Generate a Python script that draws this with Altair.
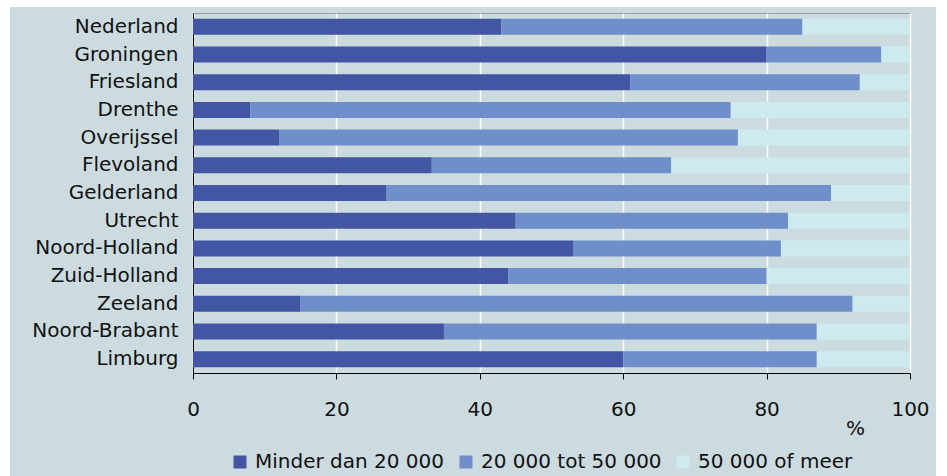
import altair as alt
import pandas as pd

# Share of households per income class, by province (%)
provinces = [
    "Nederland", "Groningen", "Friesland", "Drenthe", "Overijssel", "Flevoland",
    "Gelderland", "Utrecht", "Noord-Holland", "Zuid-Holland", "Zeeland",
    "Noord-Brabant", "Limburg",
]
classes = ["Minder dan 20 000", "20 000 tot 50 000", "50 000 of meer"]
low = [43, 80, 61, 8, 12, 33.3, 27, 45, 53, 44, 15, 35, 60]
middle = [42, 16, 32, 67, 64, 33.4, 62, 38, 29, 36, 77, 52, 27]
high = [15, 4, 7, 25, 24, 33.3, 11, 17, 18, 20, 8, 13, 13]
x_ticks = [0, 20, 40, 60, 80, 100]

colors = ["#4256a4", "#6f8fca", "#cdebef"]
BG = "#cbdbe0"
FONT = "DejaVu Sans"
FS = 20

rows = []
for series_idx, (cls, vals) in enumerate(zip(classes, [low, middle, high])):
    for prov, v in zip(provinces, vals):
        rows.append({"provincie": prov, "klasse": cls, "aandeel": v, "volgorde": series_idx})
df = pd.DataFrame(rows)

bars = (
    alt.Chart(df)
    .mark_bar(size=16)
    .encode(
        y=alt.Y(
            "provincie:N",
            sort=provinces,
            title=None,
            scale=alt.Scale(paddingInner=0.42, paddingOuter=0.21),
            axis=alt.Axis(
                ticks=False,
                labelFontSize=FS,
                labelFont=FONT,
                labelColor="#111111",
                labelPadding=15,
                labelLimit=0,
                domainColor="#000000",
                domainWidth=1,
                grid=False,
            ),
        ),
        x=alt.X(
            "aandeel:Q",
            stack="zero",
            scale=alt.Scale(domain=[0, 100], nice=False),
            title="%",
            axis=alt.Axis(
                values=x_ticks,
                grid=True,
                gridColor="#ffffff",
                gridWidth=1.5,
                domainColor="#000000",
                tickColor="#000000",
                tickSize=6,
                labelFontSize=FS,
                labelFont=FONT,
                labelColor="#111111",
                labelPadding=20,
                labelFlush=False,
                titleFont=FONT,
                titleFontSize=FS,
                titleFontWeight="normal",
                titleColor="#111111",
                titleX=662,
                titleY=55,
                titleAlign="center",
                titleBaseline="middle",
            ),
        ),
        color=alt.Color(
            "klasse:N",
            sort=classes,
            scale=alt.Scale(domain=classes, range=colors),
            legend=alt.Legend(
                title=None,
                orient="none",
                direction="horizontal",
                legendX=37,
                legendY=439,
                symbolType="square",
                symbolSize=169,
                symbolStrokeWidth=0,
                symbolOpacity=1,
                labelFont=FONT,
                labelFontSize=FS,
                labelColor="#111111",
                labelLimit=0,
                labelOffset=5,
                columnPadding=11,
            ),
        ),
        order=alt.Order("volgorde:Q", sort="ascending"),
    )
)

# thin white frame around the coloured panel
def strip(x0, x1, y0, y1):
    return alt.Chart(alt.Data(values=[{}])).mark_rect(color="white").encode(
        x=alt.value(x0), x2=alt.value(x1), y=alt.value(y0), y2=alt.value(y1)
    )

frame = strip(-193, -183, -13, 463) + strip(-193, 754, -13, -6) + strip(743, 754, -13, 463)

chart = (
    alt.layer(frame, bars)
    .properties(
        width=717,
        height=360,
        autosize=alt.AutoSizeParams(type="none"),
        padding={"left": 193, "top": 13, "right": 37, "bottom": 103},
        background=BG,
    )
    .configure_view(fill=BG, stroke="#9a9a9a", strokeWidth=1)
)

chart.save("out.html", embed_options={"renderer": "svg", "actions": False})
